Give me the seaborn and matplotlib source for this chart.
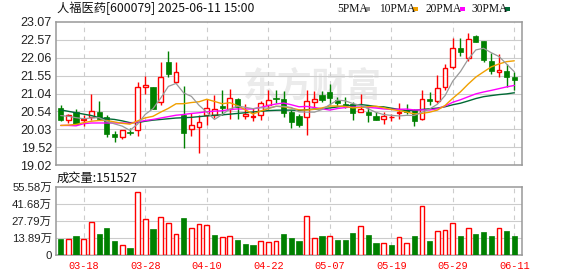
import numpy as np
import pandas as pd
import matplotlib
matplotlib.use("Agg")
import matplotlib.pyplot as plt
import seaborn as sns
from matplotlib.patches import Rectangle

# ---------------- data ----------------
tick_labels = ['03-18', '03-28', '04-10', '04-22', '05-07', '05-19', '05-29', '06-11']
tick_pos = [3, 11, 19, 27, 35, 43, 51, 59]

opens = [20.63, 20.29, 20.51, 20.29, 20.39, 20.52, 20.37, 19.90, 19.82, 19.94,
         20.00, 21.24, 21.23, 20.80, 21.94, 21.36, 20.44, 20.03, 20.11, 20.45,
         20.43, 20.69, 20.61, 20.89, 20.40, 20.38, 20.43, 20.72, 20.93, 20.88,
         20.52, 20.40, 20.39, 20.81, 21.00, 21.09, 20.85, 20.74, 20.76, 20.53,
         20.53, 20.42, 20.31, 20.37, 20.48, 20.58, 20.58, 20.31, 20.89, 20.82,
         21.24, 21.79, 22.32, 22.04, 22.68, 22.53, 21.97, 21.66, 21.68, 21.51]
highs = [20.71, 20.46, 20.60, 20.43, 21.03, 20.83, 20.43, 19.97, 20.02, 20.06,
         21.37, 21.54, 21.24, 21.93, 22.25, 21.93, 21.26, 20.48, 20.45, 20.88,
         20.99, 21.14, 21.16, 20.91, 20.74, 20.63, 20.83, 21.13, 21.14, 21.12,
         20.58, 20.46, 21.14, 21.12, 21.12, 21.31, 20.95, 20.94, 20.80, 21.03,
         20.65, 20.51, 20.51, 20.47, 20.77, 20.74, 20.60, 21.14, 21.09, 21.57,
         21.88, 22.62, 22.62, 22.75, 22.71, 22.53, 22.20, 22.15, 21.87, 21.64]
lows = [20.26, 20.20, 20.15, 20.12, 20.29, 20.29, 19.82, 19.68, 19.75, 19.87,
        19.85, 21.03, 20.60, 20.73, 21.52, 21.33, 19.51, 19.85, 19.37, 20.15,
        20.34, 20.44, 20.32, 20.31, 20.32, 20.28, 20.29, 20.61, 20.78, 20.39,
        20.08, 20.11, 19.87, 20.65, 20.81, 20.71, 20.69, 20.63, 20.29, 20.53,
        20.25, 20.29, 20.19, 20.28, 20.32, 20.46, 20.12, 20.29, 20.72, 20.77,
        21.13, 21.73, 22.12, 21.96, 22.49, 21.95, 21.60, 21.52, 21.23, 21.14]
closes = [20.30, 20.43, 20.18, 20.32, 20.54, 20.33, 19.91, 19.82, 20.01, 19.93,
          21.22, 21.29, 20.62, 21.50, 21.60, 21.64, 19.94, 20.14, 20.23, 20.64,
          20.60, 20.64, 20.91, 20.65, 20.47, 20.41, 20.77, 20.85, 20.90, 20.48,
          20.24, 20.15, 20.82, 20.89, 20.86, 20.93, 20.79, 20.72, 20.50, 20.60,
          20.45, 20.29, 20.40, 20.39, 20.52, 20.53, 20.27, 20.88, 20.84, 21.19,
          21.76, 22.32, 22.23, 22.58, 22.51, 21.99, 21.69, 21.70, 21.50, 21.43]
volumes = [13.0, 13.0, 15.5, 13.0, 26.6, 17.1, 22.0, 11.4, 8.1, 5.7,
           51.5, 29.3, 21.2, 30.7, 26.0, 17.1, 30.1, 22.0, 25.2, 24.4,
           16.3, 14.6, 15.5, 12.2, 9.0, 8.1, 11.4, 10.6, 11.4, 17.1,
           13.8, 11.4, 31.7, 13.8, 15.5, 15.5, 12.2, 12.2, 17.9, 23.6,
           16.3, 9.8, 9.8, 8.1, 14.6, 9.8, 15.5, 39.9, 11.4, 19.5,
           20.3, 26.0, 15.5, 22.0, 17.1, 18.7, 15.5, 22.0, 19.5, 15.15]
vol_up = [0, 1, 0, 1, 1, 0, 0, 0, 1, 0, 1, 1, 0, 1, 1, 1, 0, 1, 1, 1,
          0, 1, 1, 0, 0, 0, 1, 1, 1, 0, 0, 0, 1, 1, 0, 1, 0, 0, 0, 1,
          0, 0, 1, 0, 1, 1, 0, 1, 0, 1, 1, 1, 0, 1, 0, 0, 0, 1, 0, 0]
# moving-average values before enough in-window closes exist
ma5_head = [20.42, 20.40, 20.36, 20.33]
ma10_head = [20.14, 20.15, 20.17, 20.22, 20.26, 20.28, 20.28, 20.24, 20.20]
ma20_head = [20.14, 20.14, 20.13, 20.19, 20.21, 20.21, 20.21, 20.21, 20.21, 20.20,
             20.24, 20.28, 20.31, 20.35, 20.39, 20.43, 20.45, 20.48, 20.50]
ma30_head = [20.58, 20.54, 20.50, 20.46, 20.42, 20.36, 20.33, 20.31, 20.27, 20.22,
             20.22, 20.26, 20.29, 20.31, 20.33, 20.35, 20.36, 20.37, 20.39, 20.41,
             20.43, 20.44, 20.46, 20.48, 20.50, 20.52, 20.54, 20.56, 20.57]
price_ticks = [19.02, 19.52, 20.03, 20.54, 21.04, 21.55, 22.06, 22.57, 23.07]
vol_ticks = [0, 13.89, 27.79, 41.68, 55.58]
vol_tick_labels = ['0', '13.89万', '27.79万', '41.68万', '55.58万']
title_text = '人福医药[600079] 2025-06-11 15:00'
vol_title = '成交量:151527'

# ---------------- derived ----------------
n = len(closes)
idx = np.arange(n)
df = pd.DataFrame({'i': idx, 'open': opens, 'high': highs, 'low': lows,
                   'close': closes, 'vol': volumes, 'vup': vol_up})
mas = {}
for per, head in [(5, ma5_head), (10, ma10_head), (20, ma20_head), (30, ma30_head)]:
    roll = df['close'].rolling(per).mean().to_numpy()
    roll[:len(head)] = head
    mas[per] = roll

RED = '#ff0000'
GREEN = '#008000'
ma_colors = {5: '#999999', 10: '#f0a000', 20: '#ff00ff', 30: '#006a35'}

sns.set_theme(style='white')
plt.rcParams['font.family'] = ['Liberation Sans', 'Noto Sans CJK SC', 'DejaVu Sans']

W, H = 578, 276
fig = plt.figure(figsize=(W / 100, H / 100), dpi=100)
L, R = 56, 522
ax = fig.add_axes([L / W, 1 - 165 / H, (R - L) / W, 143 / H])
axv = fig.add_axes([L / W, 1 - 255 / H, (R - L) / W, 68 / H])

xlim = (-0.61, 60.0)
for a in (ax, axv):
    a.set_xlim(*xlim)
    a.set_facecolor('white')
    for s in a.spines.values():
        s.set_color('#999999')
        s.set_linewidth(1.1)
    for t in tick_pos:
        a.axvline(t, color='#cccccc', lw=0.8, ls=(0, (4, 4)), zorder=0.5)
    a.tick_params(length=0)
    a.set_xticks(tick_pos)

# watermark
ax.text(0.55, 0.55, '东方财富', transform=ax.transAxes, fontsize=25,
        family=['Noto Sans CJK SC'], weight='bold', color='#ebebeb',
        ha='center', va='center', zorder=0.2)

# price panel
ax.set_ylim(price_ticks[0], price_ticks[-1])
ax.set_yticks(price_ticks)
ax.set_yticklabels([f'{v:.2f}' for v in price_ticks], fontsize=9, color='#222222')
ax.tick_params(axis='y', pad=3)
ax.set_xticklabels([])
for v in price_ticks[1:-1]:
    ax.axhline(v, color='#cccccc', lw=0.8, zorder=0.5)

up = df['close'] >= df['open']
cols = np.where(up, RED, GREEN)
ax.vlines(df['i'], df['low'], df['high'], colors=cols, lw=1.0, zorder=2)
body_h = np.maximum((df['close'] - df['open']).abs(), 0.012)
body_b = np.minimum(df['close'], df['open'])
ax.bar(df['i'][up], body_h[up], bottom=body_b[up], width=0.62,
       facecolor='white', edgecolor=RED, linewidth=1.0, zorder=3)
ax.bar(df['i'][~up], body_h[~up], bottom=body_b[~up], width=0.68,
       facecolor=GREEN, edgecolor=GREEN, linewidth=0.5, zorder=3)

for per in (30, 20, 10, 5):
    sns.lineplot(x=idx, y=mas[per], ax=ax, color=ma_colors[per],
                 linewidth=1.0 if per != 5 else 0.9, zorder=4, legend=False)
ax.set_xlabel('')
ax.set_ylabel('')

# volume panel
axv.set_ylim(0, vol_ticks[-1])
axv.set_yticks(vol_ticks)
axv.set_yticklabels(vol_tick_labels, fontsize=8.2, color='#222222')
axv.tick_params(axis='y', pad=3)
for v in vol_ticks[1:-1]:
    axv.axhline(v, color='#cccccc', lw=0.8, zorder=0.5)
vup = df['vup'] == 1
axv.bar(df['i'][vup], df['vol'][vup], width=0.62, facecolor='white',
        edgecolor=RED, linewidth=1.0, zorder=3)
axv.bar(df['i'][~vup], df['vol'][~vup], width=0.68, facecolor=GREEN,
        edgecolor=GREEN, linewidth=0.5, zorder=3)
axv.set_xticklabels(tick_labels, fontsize=7.4, color=RED,
                    family=['Liberation Mono'])
axv.tick_params(axis='x', pad=4)

# titles and legend
fig.text(57 / W, 1 - 8 / H, title_text, fontsize=8.8, va='center', ha='left',
         family=['Noto Sans CJK SC', 'DejaVu Sans'], color='#111111')
fig.text(57 / W, 1 - 178 / H, vol_title, fontsize=8.8, va='center', ha='left',
         family=['Noto Sans CJK SC', 'DejaVu Sans'], color='#111111')
leg = [('5PMA', 337, 365, 5), ('10PMA', 379, 413, 10),
       ('20PMA', 425, 460, 20), ('30PMA', 471, 505, 30)]
for label, tx, sx, per in leg:
    fig.text(tx / W, 1 - 9 / H, label, fontsize=8.3, va='center', ha='left',
             family=['Liberation Serif'], color='#111111')
    fig.patches.append(Rectangle((sx / W, 1 - 10.5 / H), 5 / W, 3 / H,
                                 transform=fig.transFigure,
                                 facecolor=ma_colors[per], edgecolor='none'))

fig.savefig('out.png', dpi=100)
